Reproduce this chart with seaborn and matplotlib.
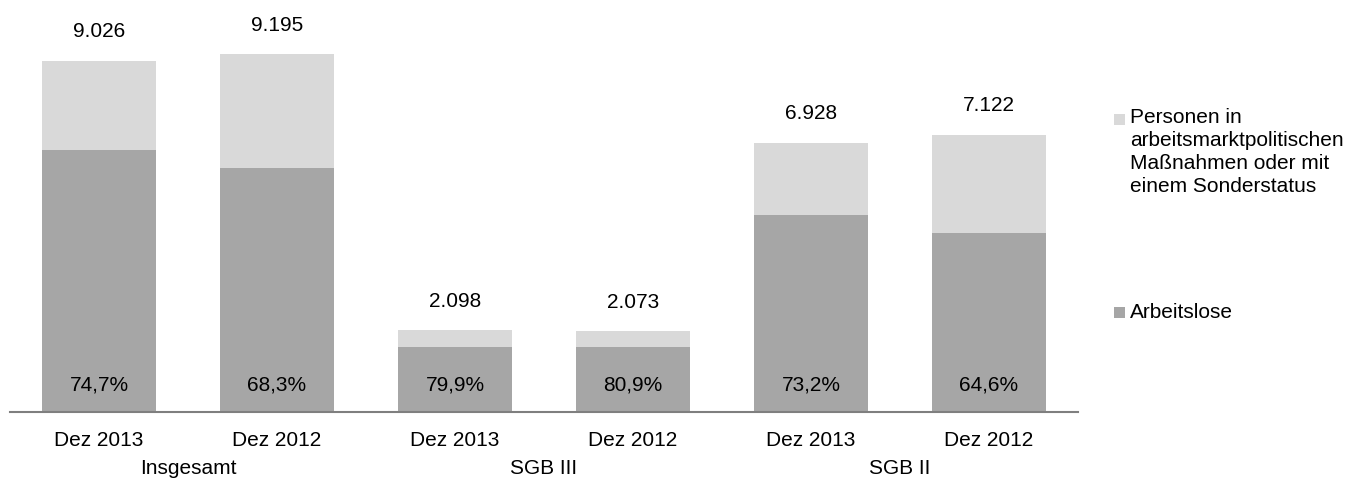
import matplotlib
matplotlib.use("Agg")
import matplotlib.pyplot as plt
import seaborn as sns
import pandas as pd
from matplotlib.patches import Rectangle

# ---- data ----
periods = ["Dez 2013", "Dez 2012", "Dez 2013", "Dez 2012", "Dez 2013", "Dez 2012"]
groups = ["Insgesamt", "SGB III", "SGB II"]
totals = [9026, 9195, 2098, 2073, 6928, 7122]
share_arbeitslose = [74.7, 68.3, 79.9, 80.9, 73.2, 64.6]
legend_labels = ["Personen in\narbeitsmarktpolitischen\nMaßnahmen oder mit\neinem Sonderstatus",
                 "Arbeitslose"]

LIGHT = "#d9d9d9"
DARK = "#a6a6a6"

sns.set_theme(style="white")
plt.rcParams["font.family"] = ["Liberation Sans", "DejaVu Sans"]
FS = 15

df = pd.DataFrame({
    "pos": list(range(len(totals))),
    "total": totals,
    "arbeitslose": [t * p / 100 for t, p in zip(totals, share_arbeitslose)],
})

W, H, DPI = 1351, 478, 100
fig = plt.figure(figsize=(W / DPI, H / DPI), dpi=DPI)
ax = fig.add_axes([10 / W, 66 / H, 1068 / W, 389 / H])

sns.barplot(data=df, x="pos", y="total", color=LIGHT, saturation=1, width=0.64,
            linewidth=0, ax=ax)
sns.barplot(data=df, x="pos", y="arbeitslose", color=DARK, saturation=1, width=0.64,
            linewidth=0, ax=ax)

ax.set_xlim(-0.5, len(totals) - 0.5)
ax.set_ylim(0, 10000)
for s in ["top", "right", "left"]:
    ax.spines[s].set_visible(False)
ax.spines["bottom"].set_color("#7f7f7f")
ax.spines["bottom"].set_linewidth(1.5)
ax.set_yticks([])
ax.set_xticks([])
ax.set_xlabel("")
ax.set_ylabel("")

px = 72 / DPI  # points per pixel

def fmt_de(v):
    return f"{v:,}".replace(",", ".")

for i, (t, p) in enumerate(zip(totals, share_arbeitslose)):
    ax.annotate(fmt_de(t), xy=(i, t), xytext=(0, 29 * px), textcoords="offset points",
                ha="center", va="center", fontsize=FS, color="#000000")
    ax.annotate(f"{p:.1f}%".replace(".", ","), xy=(i, 0), xytext=(0, 27 * px),
                textcoords="offset points", ha="center", va="center", fontsize=FS, color="#000000")
    ax.annotate(periods[i], xy=(i, 0), xycoords=("data", "axes fraction"),
                xytext=(0, -28 * px), textcoords="offset points",
                ha="center", va="center", fontsize=FS, color="#000000", annotation_clip=False)

for g, name in enumerate(groups):
    ax.annotate(name, xy=(2 * g + 0.5, 0), xycoords=("data", "axes fraction"),
                xytext=(0, -56 * px), textcoords="offset points",
                ha="center", va="center", fontsize=FS, color="#000000", annotation_clip=False)

# ---- legend (manual) ----
sq = 11
fig.patches.append(Rectangle((1114 / W, 1 - 125 / H), sq / W, sq / H, transform=fig.transFigure,
                             facecolor=LIGHT, edgecolor="none"))
fig.text(1130 / W, 1 - 108 / H, legend_labels[0], ha="left", va="top", fontsize=FS,
         linespacing=1.27, color="#000000")
fig.patches.append(Rectangle((1114 / W, 1 - 318 / H), sq / W, sq / H, transform=fig.transFigure,
                             facecolor=DARK, edgecolor="none"))
fig.text(1130 / W, 1 - 312 / H, legend_labels[1], ha="left", va="center", fontsize=FS,
         color="#000000")

fig.savefig("out.png", dpi=DPI)
